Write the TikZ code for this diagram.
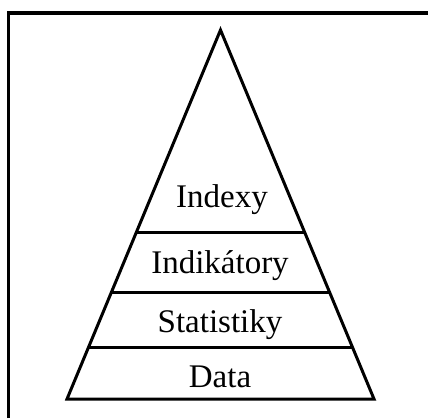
\documentclass[tikz,border=0pt]{standalone}
\usepackage{fontspec}
\setmainfont{Liberation Serif}
\begin{document}
\begin{tikzpicture}[x=1pt,y=-1pt,
  edge/.style={line width=3pt,line join=miter},
  frame/.style={line width=3.5pt},
  lbl/.style={anchor=base,inner sep=0pt,font=\fontsize{33}{40}\selectfont}]
\useasboundingbox (0,0) rectangle (428,418);
\coordinate (apex) at (220.5,30);
\coordinate (bl) at (67,399);
\coordinate (br) at (374,399);
\coordinate (fl) at (8.5,418);
\coordinate (fc) at (8.5,13);
\coordinate (fr) at (430,13);
\draw[frame] (fl) -- (fc) -- (fr);
\draw[edge] (apex) -- (bl) -- (br) -- cycle;
% horizontal dividers
\foreach \y/\n in {232/a,292/b,347/c}{
  \path (apex) -- (bl) coordinate[pos={(\y-30)/369}] (l\n);
  \path (apex) -- (br) coordinate[pos={(\y-30)/369}] (r\n);
  \draw[edge] (l\n) -- (r\n);
}
\node[lbl] (indexy) at (222,207.5) {Indexy};
\node[lbl] (indik) at (220,273.5) {Indikátory};
\node[lbl] (stat) at (220,332) {Statistiky};
\node[lbl] (data) at (220,387) {Data};
\end{tikzpicture}
\end{document}
